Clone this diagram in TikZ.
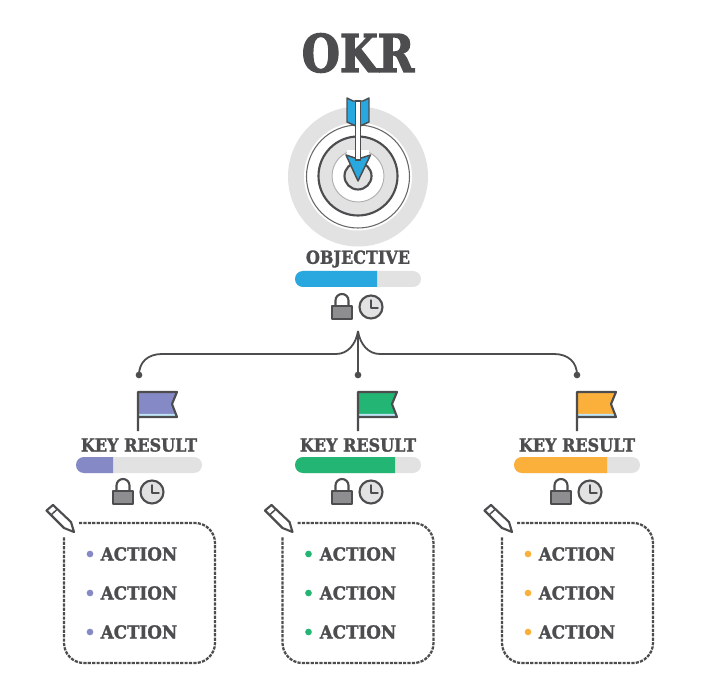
\documentclass[tikz,border=0pt]{standalone}
\usepackage{fontspec}
\newfontfamily\slab[FakeStretch=0.89,FakeBold=1.5]{DejaVu Serif Bold}
\newfontfamily\slabwide[FakeStretch=0.93,FakeBold=1.5]{DejaVu Serif Bold}
\newfontfamily\slabtitle[FakeStretch=0.84,FakeBold=2.5]{DejaVu Serif Bold}
\definecolor{ink}{HTML}{4D4D4F}
\definecolor{pale}{HTML}{E2E2E2}
\definecolor{tone}{HTML}{29A7DF}
\definecolor{purp}{HTML}{8589C5}
\definecolor{grn}{HTML}{22B573}
\definecolor{org}{HTML}{FBB03B}
\definecolor{lockfill}{HTML}{8E8E90}
\tikzset{
  lbl/.style={font=\slab\fontsize{13.5pt}{15pt}\selectfont,text=ink,inner sep=0pt},
  lblwide/.style={font=\slabwide\fontsize{13.5pt}{15pt}\selectfont,text=ink,inner sep=0pt},
  ttl/.style={font=\slabtitle\fontsize{39pt}{44pt}\selectfont,text=ink,inner sep=0pt},
  lineink/.style={draw=ink,line width=1.6pt,line join=round},
  thinink/.style={draw=ink,line width=1.1pt,line join=round},
  dashbox/.style={draw=ink,line width=1.7pt,dash pattern=on 2.4pt off 0.9pt,line cap=butt},
  wire/.style={draw=ink,line width=1.35pt},
  tipdot/.style={circle,fill=ink,inner sep=0pt,minimum size=5pt},
  bullet/.style={circle,inner sep=0pt,minimum size=5pt}
}
% bar: centre x, top y, end of progress, colour
\newcommand{\pbar}[4]{%
  \fill[pale,rounded corners=6pt] (#1-63,#2) rectangle (#1+63,#2+16);
  \begin{scope}
    \clip (#1-63,#2) rectangle (#3,#2+16);
    \fill[#4,rounded corners=6pt] (#1-63,#2) rectangle (#1+63,#2+16);
  \end{scope}}
% lock and clock: centre x, clock centre y
\newcommand{\lockclock}[2]{%
  \draw[lineink] (#1-22.5,#2-1) -- (#1-22.5,#2-6.5) arc[start angle=180,end angle=360,radius=6.5] -- (#1-9.5,#2-1);
  \fill[lockfill] (#1-26,#2-1) rectangle (#1-6,#2+12);
  \draw[thinink] (#1-26,#2-1) rectangle (#1-6,#2+12);
  \draw[lineink,fill=pale] (#1+13,#2) circle[radius=11.5];
  \draw[thinink,line cap=round] (#1+13,#2-7) -- (#1+13,#2+1) -- (#1+20,#2+1);}
% flag: pole x, colour
\newcommand{\flagicon}[2]{%
  \path[fill=#2] (#1,392) -- (#1+39,392) -- (#1+34,404) -- (#1+39,417) -- (#1,417) -- cycle;
  \fill[white!70!tone] (#1+1,414) -- (#1+38,414) -- (#1+38.5,416) -- (#1+1,416) -- cycle;
  \draw[lineink] (#1,431) -- (#1,392) -- (#1+39,392) -- (#1+34,404) -- (#1+39,417) -- (#1,417);}
% action box: left x, colour
\newcommand{\actionbox}[2]{%
  \draw[dashbox,rounded corners=15pt] (#1+15,523) -- (#1+151,523) -- (#1+151,663) -- (#1,663) -- (#1,537);
  \draw[lineink,fill=white] (#1-17.5,510.5) -- (#1-11,505) -- (#1+7,522) -- (#1+10,532) -- (#1,528) -- cycle;
  \draw[thinink] (#1-13,515) -- (#1-6.5,509);
  \foreach \yy in {554,593,632}{
    \node[bullet,fill=#2] at (#1+26,\yy) {};
  }}
\begin{document}
\begin{tikzpicture}[x=0.75pt,y=-0.75pt]
\useasboundingbox (0,0) rectangle (721,698);
\fill[white] (0,0) rectangle (721,698);
% title
\node[ttl] (title) at (358,53) {OKR};
% target
\fill[pale] (358,176.5) circle[radius=70];
\fill[white] (358,176.5) circle[radius=54];
\draw[draw=ink!85,line width=0.8pt] (358,176.5) circle[radius=51.5];
\fill[pale] (358,176) circle[radius=39];
\fill[white] (358,176) circle[radius=26];
\draw[draw=ink!45,line width=0.7pt] (358,176) circle[radius=26];
\draw[lineink] (358,176) circle[radius=39.5];
\draw[lineink,fill=pale] (358,176) circle[radius=13.5];
% arrow
\fill[white] (347,150) rectangle (369,157);
\draw[thinink,fill=tone] (347,98) -- (353,101) -- (363,101) -- (369,98) -- (369,122) -- (358,127) -- (347,122) -- cycle;
\draw[thinink,fill=tone] (346,155) -- (358,159) -- (370.5,155) -- (358,181) -- cycle;
\draw[thinink,fill=white] (355.5,101) rectangle (360.5,160);
% objective
\node[lbl] (objective) at (358,259) {OBJECTIVE};
\pbar{358}{271}{377}{tone}
\lockclock{358}{307}
% connector
\coordinate (hub) at (358,331);
\node[tipdot] (d1) at (139,375) {};
\node[tipdot] (d2) at (358,375) {};
\node[tipdot] (d3) at (577,375) {};
\draw[wire] (d1.center) .. controls (139,362) and (148,354) .. (162,354) -- (336,354) .. controls (348,354) and (356,344) .. (hub);
\draw[wire] (d3.center) .. controls (577,362) and (568,354) .. (554,354) -- (380,354) .. controls (368,354) and (360,344) .. (hub);
\draw[wire] (hub) -- (d2.center);
% columns
\flagicon{138}{purp}
\flagicon{358}{grn}
\flagicon{577}{org}
\node[lbl] (k1) at (139,445) {KEY RESULT};
\node[lbl] (k2) at (358,445) {KEY RESULT};
\node[lbl] (k3) at (577,445) {KEY RESULT};
\pbar{139}{457}{113}{purp}
\pbar{358}{457}{395}{grn}
\pbar{577}{457}{607}{org}
\lockclock{139}{492}
\lockclock{358}{492}
\lockclock{577}{492}
\actionbox{64}{purp}
\actionbox{282.5}{grn}
\actionbox{502}{org}
\foreach \cx/\nm in {139/a,358/b,577/c}{
  \node[lblwide] (\nm1) at (\cx,554) {ACTION};
  \node[lblwide] (\nm2) at (\cx,593) {ACTION};
  \node[lblwide] (\nm3) at (\cx,632) {ACTION};
}
\end{tikzpicture}
\end{document}
